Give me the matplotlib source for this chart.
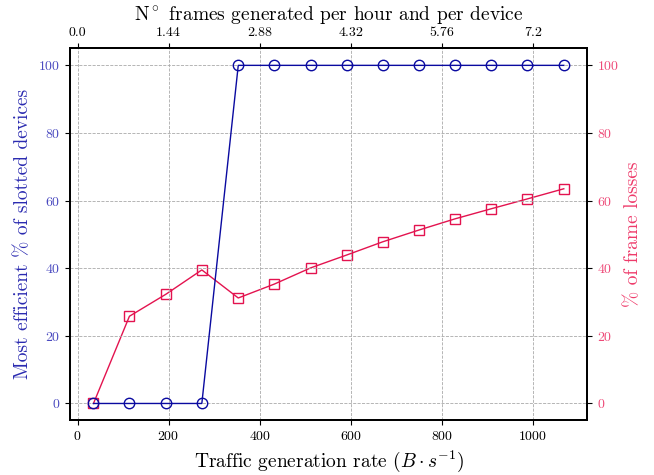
import numpy as np
import matplotlib
matplotlib.use("Agg")
import matplotlib.pyplot as plt

plt.rcParams['font.family'] = ['cmr10', 'DejaVu Serif']
plt.rcParams['mathtext.fontset'] = 'cm'
plt.rcParams['axes.formatter.use_mathtext'] = True

# Traffic generation rate (B/s)
rate = [35, 114, 194, 273, 353, 432, 512, 591, 670, 750, 829, 909, 988, 1068]
# Most efficient % of slotted devices
slotted = [0, 0, 0, 0, 100, 100, 100, 100, 100, 100, 100, 100, 100, 100]
# % of frame losses
losses = [0, 25.8, 32.3, 39.5, 31.2, 35.3, 40.1, 43.9, 47.8, 51.3, 54.6, 57.6, 60.5, 63.5]

top_ticks = [0.0, 1.44, 2.88, 4.32, 5.76, 7.2]
top_labels = ['0.0', '1.44', '2.88', '4.32', '5.76', '7.2']
scale = 0.0072  # frames/hour/device per B/s

blue = '#0a0aa0'
red = '#e3134f'

fig, ax1 = plt.subplots(figsize=(6.54, 4.75), dpi=100)
ax2 = ax1.twinx()

ax2.plot(rate, losses, color=red, marker='s', markersize=7.5, markerfacecolor='none',
         markeredgewidth=1.0, linewidth=1.0, zorder=2)
ax1.set_zorder(ax2.get_zorder() + 1)
ax1.patch.set_visible(False)
ax1.plot(rate, slotted, color=blue, marker='o', markersize=7.5, markerfacecolor='none',
         markeredgewidth=1.0, linewidth=1.0, zorder=3)

ax1.set_ylim(-5, 105)
ax2.set_ylim(-5, 105)
ax1.set_yticks([0, 20, 40, 60, 80, 100])
ax2.set_yticks([0, 20, 40, 60, 80, 100])
ax1.set_xlim(-16.6, 1119.6)

ax1.grid(True, linestyle='--', color='#aaaaaa', linewidth=0.6)

ax1.set_xlabel(r'Traffic generation rate $(B \cdot s^{-1})$', fontsize=14)
ax1.set_ylabel(r'Most efficient % of slotted devices', fontsize=14, color='#2a2ab0')
ax2.set_ylabel(r'% of frame losses', fontsize=14, color='#ee3a6a')
ax1.tick_params(axis='y', labelcolor='#4a4ac0', labelsize=10)
ax2.tick_params(axis='y', labelcolor='#ee4a78', labelsize=10)
ax1.tick_params(axis='x', labelsize=10)

ax3 = ax1.twiny()
lo, hi = ax1.get_xlim()
ax3.set_xlim(lo * scale, hi * scale)
ax3.set_xticks(top_ticks)
ax3.set_xticklabels(top_labels)
ax3.tick_params(axis='x', labelsize=10)
ax3.set_xlabel(r'N$^\circ$ frames generated per hour and per device', fontsize=14)

for a in (ax1, ax2, ax3):
    for s in a.spines.values():
        s.set_linewidth(1.2)

fig.subplots_adjust(left=0.107, right=0.898, top=0.898, bottom=0.115)
fig.savefig('out.png', dpi=100)
